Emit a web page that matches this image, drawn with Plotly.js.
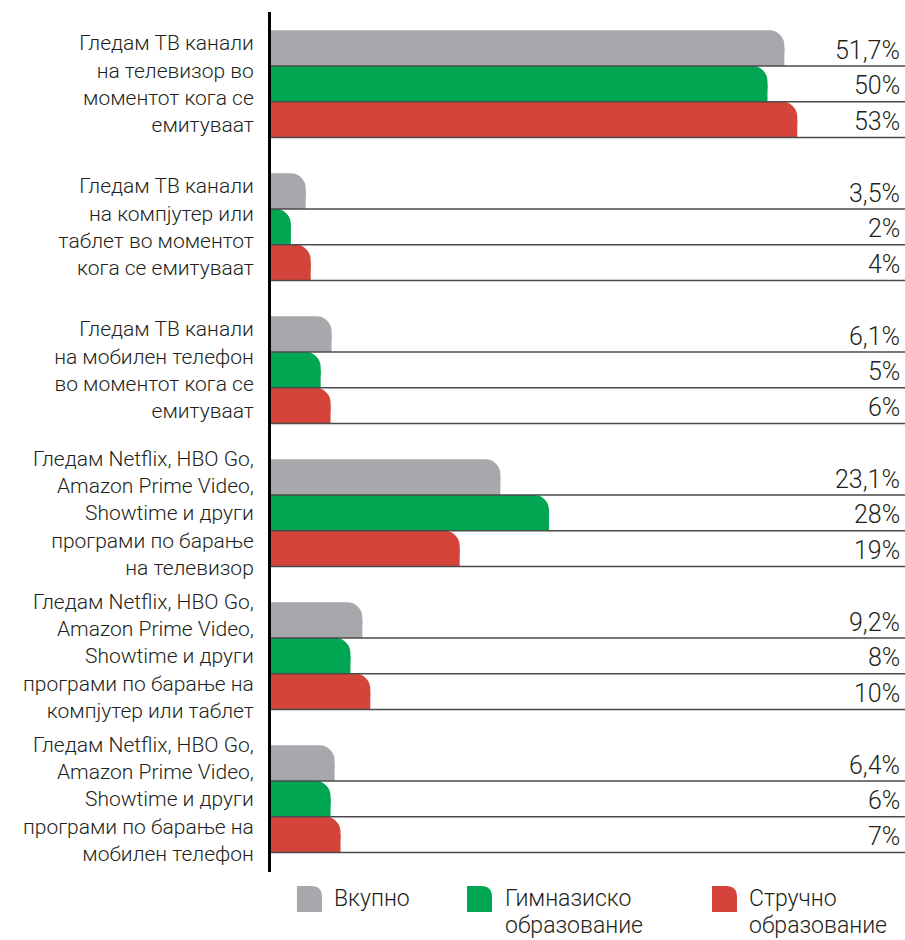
<!DOCTYPE html>
<html>
<head>
<meta charset="utf-8">
<script src="https://cdn.plot.ly/plotly-3.0.1.min.js"></script>
<style>
  body { margin: 0; background: #fff; }
  #chart { width: 905px; height: 940px; }
</style>
</head>
<body>
<div id="chart"></div>
<script>
const categories = [
	'Гледам ТВ канали<br>на телевизор во<br>моментот кога се<br>емитуваат',
	'Гледам ТВ канали<br>на компјутер или<br>таблет во моментот<br>кога се емитуваат',
	'Гледам ТВ канали<br>на мобилен телефон<br>во моментот кога се<br>емитуваат',
	'Гледам Netflix, HBO Go,<br>Amazon Prime Video,<br>Showtime и други<br>програми по барање<br>на телевизор',
	'Гледам Netflix, HBO Go,<br>Amazon Prime Video,<br>Showtime и други<br>програми по барање на<br>компјутер или таблет',
	'Гледам Netflix, HBO Go,<br>Amazon Prime Video,<br>Showtime и други<br>програми по барање на<br>мобилен телефон'
];
const vkupno = [51.7, 3.5, 6.1, 23.1, 9.2, 6.4];
const gimnazisko = [50, 2, 5, 28, 8, 6];
const struchno = [53, 4, 6, 19, 10, 7];
const seriesNames = [['Вкупно'], ['Гимназиско', 'образование'], ['Стручно', 'образование']];

const W = 905, H = 940,
	M = { l: 271, r: 0, t: 12, b: 68 },
	FONT = 'Roboto, "Open Sans", sans-serif',
	TEXT = '#231f20',
	COLORS = ['#a7a8ab', '#00a651', '#d4443a'],
	BARW = 0.25,
	XMAX = 63.85,
	YRANGE = [5.511, -0.503];

var series = [vkupno, gimnazisko, struchno],
	idx = categories.map((c, i) => i),
	traces = [],
	shapes = [],
	annotations = [];

series.forEach(function (vals, s) {
	var off = -0.375 + s * BARW;
	// full bar, both far corners rounded
	traces.push({
		type: 'bar', orientation: 'h', x: vals, y: idx,
		offset: off, width: BARW,
		marker: { color: COLORS[s], cornerradius: 15, line: { width: 0 } },
		hoverinfo: 'skip', showlegend: false
	});
	// square lower half so only the top-right corner stays round
	traces.push({
		type: 'bar', orientation: 'h', x: vals, y: idx,
		offset: off + BARW / 2, width: BARW / 2,
		marker: { color: COLORS[s], line: { width: 0 } },
		hoverinfo: 'skip', showlegend: false
	});
	vals.forEach(function (v, i) {
		var bottom = i + off + BARW;
		shapes.push({
			type: 'line', xref: 'paper', yref: 'y',
			x0: 0, x1: 1, y0: bottom, y1: bottom,
			line: { color: '#4a4a4a', width: 1.5 }, layer: 'above'
		});
		annotations.push({
			xref: 'paper', yref: 'y', x: 1, y: i + off + BARW / 2,
			xanchor: 'right', yanchor: 'middle', xshift: -3, yshift: -2,
			text: String(v).replace('.', ',') + '%', showarrow: false,
			font: { family: FONT, size: 25, color: TEXT, weight: 300 }
		});
	});
});

// legend drawn by hand: rounded-corner swatch + label lines
function px(x) { return (x - M.l) / (W - M.l - M.r); }
function py(y) { return (H - M.b - y) / (H - M.t - M.b); }
function swatch(x, y, w, h, r) {
	return 'M ' + px(x) + ',' + py(y + h) +
		' L ' + px(x) + ',' + py(y) +
		' L ' + px(x + w - r) + ',' + py(y) +
		' Q ' + px(x + w) + ',' + py(y) + ' ' + px(x + w) + ',' + py(y + r) +
		' L ' + px(x + w) + ',' + py(y + h) + ' Z';
}
var swatchX = [297, 467, 712],
	labelX = [332, 503, 747];
seriesNames.forEach(function (lines, s) {
	shapes.push({
		type: 'path', xref: 'paper', yref: 'paper',
		path: swatch(swatchX[s], 886, 25, 26, 11),
		fillcolor: COLORS[s], line: { width: 0 }
	});
	lines.forEach(function (t, k) {
		annotations.push({
			xref: 'paper', yref: 'paper', x: px(labelX[s]), y: py(898 + k * 27),
			xanchor: 'left', yanchor: 'middle', align: 'left',
			text: t, showarrow: false,
			font: { family: FONT, size: 23, color: TEXT, weight: 300 }
		});
	});
});

var layout = {
	width: W, height: H,
	margin: M,
	paper_bgcolor: '#fff', plot_bgcolor: '#fff',
	barmode: 'overlay',
	showlegend: false,
	xaxis: { range: [0, XMAX], visible: false, fixedrange: true },
	yaxis: {
		range: YRANGE, tickvals: idx, ticktext: categories,
		showgrid: false, zeroline: false, ticks: '',
		showline: true, linecolor: '#000', linewidth: 3,
		ticklabelstandoff: 10,
		tickfont: { family: FONT, size: 21, color: TEXT, weight: 300 },
		fixedrange: true
	},
	shapes: shapes,
	annotations: annotations
};

Plotly.newPlot('chart', traces, layout, { displayModeBar: false, staticPlot: true });
</script>
</body>
</html>
